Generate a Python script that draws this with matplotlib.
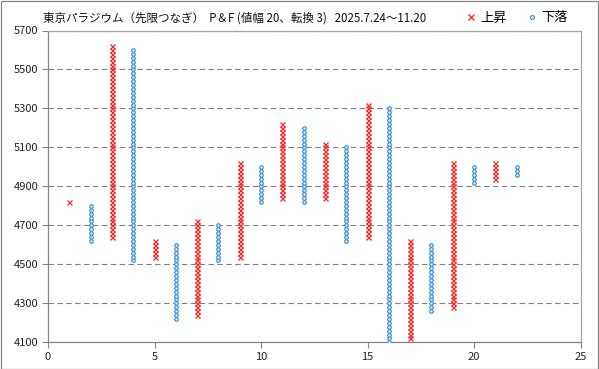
import numpy as np
import matplotlib
matplotlib.use("Agg")
import matplotlib.pyplot as plt
from matplotlib.patches import Rectangle
from matplotlib.lines import Line2D

plt.rcParams["font.family"] = ["Noto Sans CJK JP", "DejaVu Sans"]

# P&F columns: box size 20, reversal 3
box = 20
columns = list(range(1, 23))
kinds = ["X", "O"] * 11
lows = [4820, 4620, 4640, 4520, 4540, 4220, 4240, 4520, 4540, 4820, 4840,
        4820, 4840, 4620, 4640, 4100, 4120, 4260, 4280, 4920, 4940, 4960]
highs = [4820, 4800, 5620, 5600, 4620, 4600, 4720, 4700, 5020, 5000, 5220,
         5200, 5120, 5100, 5320, 5300, 4620, 4600, 5020, 5000, 5020, 5000]

title = "東京パラジウム（先限つなぎ）  P＆F (値幅 20、転換 3)   2025.7.24～11.20"
x_ticks = [0, 5, 10, 15, 20, 25]
y_ticks = list(range(4100, 5701, 200))

red = "#FF2020"
blue = "#3A8FDA"

fig = plt.figure(figsize=(5.99, 3.69), dpi=100)
ax = fig.add_axes([48 / 599, 1 - 342.3 / 369, 532.5 / 599, 311.8 / 369])

# expand each column into its boxes
xs_x, ys_x, xs_o, ys_o = [], [], [], []
for c, k, lo, hi in zip(columns, kinds, lows, highs):
    boxes = np.arange(lo, hi + 1, box)
    if k == "X":
        xs_x += [c] * len(boxes)
        ys_x += list(boxes)
    else:
        xs_o += [c] * len(boxes)
        ys_o += list(boxes)

ax.plot(xs_x, ys_x, "x", color=red, markersize=3.6, markeredgewidth=0.9,
        linestyle="none", zorder=3)
ax.plot(xs_o, ys_o, "o", markerfacecolor="white", markeredgecolor=blue,
        markersize=2.5, markeredgewidth=0.9, linestyle="none", zorder=3)

ax.set_xlim(0, 25)
ax.set_ylim(4100, 5700)
ax.set_xticks(x_ticks)
ax.set_yticks(y_ticks)
ax.tick_params(axis="both", direction="out", length=4, width=0.8,
               color="#868686", labelsize=8, labelcolor="#222222", pad=3)

ax.yaxis.grid(True, color="#808080", linestyle=(0, (5, 3)), linewidth=0.8)
ax.set_axisbelow(True)

for side in ["left", "bottom"]:
    ax.spines[side].set_color("#868686")
    ax.spines[side].set_linewidth(0.9)
for side in ["top", "right"]:
    ax.spines[side].set_color("#A6A6A6")
    ax.spines[side].set_linewidth(0.9)

fig.text(43 / 599, 1 - 18 / 369, title, fontsize=8.3, va="center", ha="left",
         color="#111111")

handles = [
    Line2D([], [], marker="x", color=red, linestyle="none", markersize=4,
           markeredgewidth=0.9),
    Line2D([], [], marker="o", markerfacecolor="white", markeredgecolor=blue,
           linestyle="none", markersize=2.8, markeredgewidth=0.9),
]
fig.legend(handles, ["上昇", "下落"], ncol=2, loc="center left",
           bbox_to_anchor=(466 / 599, 1 - 18 / 369), frameon=False,
           fontsize=9.5, handlelength=0.8, handletextpad=0.3, columnspacing=1.5,
           borderpad=0, borderaxespad=0)

fig.patches.append(Rectangle((0.5 / 599, 0.5 / 369), 597.5 / 599, 367.5 / 369,
                             transform=fig.transFigure, fill=False,
                             edgecolor="#868686", linewidth=0.9))

fig.savefig("out.png", dpi=100)
